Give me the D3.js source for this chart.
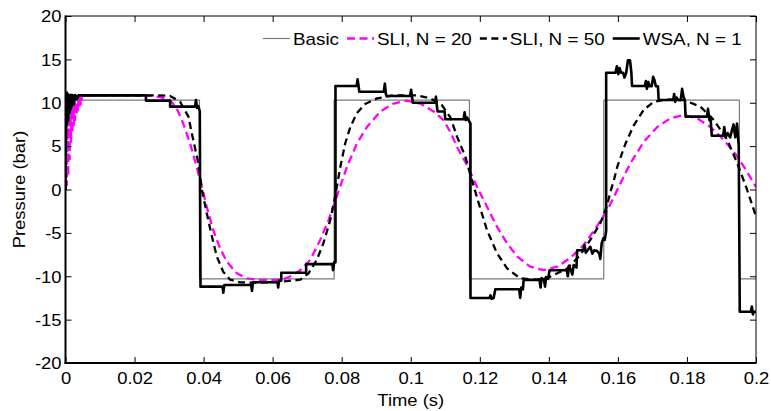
<!DOCTYPE html>
<html><head><meta charset="utf-8">
<script src="https://cdn.jsdelivr.net/npm/d3@7"></script>
<style>body{margin:0;background:#fff}svg{display:block}text{font-family:Arial,"Liberation Sans",sans-serif;fill:#000}</style>
</head><body>
<svg id="c" width="771" height="411"></svg>
<script>
const xTicks = [0,0.02,0.04,0.06,0.08,0.1,0.12,0.14,0.16,0.18,0.2];
const yTicks = [-20,-15,-10,-5,0,5,10,15,20];
const legendLabels = ["Basic","SLI, N = 20","SLI, N = 50","WSA, N = 1"];

const basic = [[0,0],[0,10.3],[0.0388,10.3],[0.0388,-10.3],[0.0778,-10.3],[0.0778,10.3],[0.1170,10.3],[0.1170,-10.3],[0.1559,-10.3],[0.1559,10.3],[0.1952,10.3],[0.1952,-10.3],[0.2,-10.3]];

const sli20 = [[0,0],[0.0002,10.6],[0.0004,0.5],[0.0006,10.7],[0.0008,1.5],[0.001,10.8],[0.0012,3.5],[0.0014,10.8],[0.0016,5.5],[0.0018,10.8],[0.002,6.5],[0.0022,10.8],[0.0024,7.4],[0.0026,10.8],[0.0028,8],[0.003,10.8],[0.0032,8.6],[0.0034,10.8],[0.0036,9],[0.0038,10.8],[0.004,9.4],[0.0042,10.8],[0.0044,9.8],[0.0046,10.8],[0.0048,10.2],[0.005,10.8],
[0.010,10.85],[0.015,10.85],[0.020,10.85],[0.025,10.8],[0.0275,10.65],[0.0303,10.3],[0.0322,9.36],[0.0341,7.6],[0.0361,5.3],[0.038,2.6],[0.0395,0.3],[0.0409,-2.0],[0.0428,-4.7],[0.0448,-6.8],[0.0467,-8.3],[0.0496,-9.66],[0.0525,-10.24],[0.0564,-10.43],[0.060,-10.45],[0.0631,-10.35],[0.0655,-9.95],[0.068,-9.3],[0.0709,-8.1],[0.0738,-5.8],[0.0762,-3.5],[0.0786,-0.8],[0.0815,2.6],[0.0844,5.3],[0.0873,7.2],[0.0912,9.0],[0.095,9.9],[0.0989,10.24],[0.1028,9.9],[0.1066,9.0],[0.1095,8.0],[0.1115,6.6],[0.1134,4.9],[0.1163,2.8],[0.1192,0.3],[0.1221,-2.0],[0.125,-4.3],[0.1279,-6.2],[0.1308,-7.7],[0.1346,-8.9],[0.1385,-9.3],[0.1424,-8.9],[0.1462,-7.9],[0.1501,-6.4],[0.154,-4.2],[0.1569,-2.4],[0.1588,-0.9],[0.1607,0.7],[0.1636,3.0],[0.1675,5.5],[0.1714,7.2],[0.1752,8.2],[0.1791,8.6],[0.183,8.2],[0.1868,7.2],[0.1907,5.7],[0.1946,3.8],[0.1974,2.05],[0.2,0.3]];

const sli50 = [[0,0],[0.0002,9],[0.0004,11.2],[0.0006,10.2],[0.0008,11],[0.0011,10.6],[0.0015,10.9],[0.005,10.85],[0.027,10.85],[0.0303,10.78],[0.0332,10.1],[0.0356,8.4],[0.037,5.7],[0.0385,3.0],[0.0395,0],[0.0409,-2.7],[0.0424,-5.4],[0.0438,-7.7],[0.0457,-9.5],[0.0477,-10.4],[0.0506,-10.7],[0.055,-10.75],[0.062,-10.65],[0.068,-10.4],[0.0704,-9.66],[0.0728,-8.1],[0.0747,-6.2],[0.0767,-3.5],[0.0781,-0.8],[0.0796,2.6],[0.081,5.3],[0.0825,7.2],[0.0844,8.8],[0.0868,9.86],[0.0902,10.5],[0.095,10.85],[0.1018,10.85],[0.1057,10.5],[0.109,9.74],[0.1115,8.3],[0.1134,6.1],[0.1158,3.8],[0.1177,1.1],[0.1197,-1.6],[0.1221,-4.7],[0.125,-7.35],[0.1279,-9.1],[0.1317,-10.24],[0.1366,-10.4],[0.1404,-10.05],[0.1453,-9.1],[0.1491,-7.55],[0.152,-5.8],[0.1549,-3.9],[0.1569,-1.8],[0.1578,-0.3],[0.1588,1.0],[0.1598,2.6],[0.1622,5.3],[0.1646,7.4],[0.1675,9.2],[0.1704,10.1],[0.1743,10.4],[0.1791,10.3],[0.1839,9.55],[0.1878,8.0],[0.1917,5.7],[0.1946,3.0],[0.1974,0],[0.2,-3.1]];

const wsa = [[0,0],[0.0002,10.9],[0.0004,7.5],[0.0006,11],[0.0008,8],[0.001,10.9],[0.0012,8.8],[0.0014,10.9],[0.0017,9.3],[0.002,10.9],[0.0024,9.8],[0.0028,10.9],[0.0033,10.4],[0.0038,10.85],[0.0233,10.85],[0.0233,10.25],[0.0303,10.25],[0.0303,9.55],[0.0375,9.55],[0.0378,10.3],[0.0381,9.4],[0.0385,9.6],[0.0389,9.0],[0.0391,-11.2],
[0.0455,-11.2],[0.0457,-11.9],[0.046,-11.0],[0.0538,-11.0],[0.054,-11.7],[0.0543,-10.7],[0.0614,-10.7],[0.0616,-11.3],[0.0619,-10.5],[0.0625,-10.5],[0.0625,-9.6],[0.0697,-9.6],[0.0697,-8.6],[0.0773,-8.6],[0.0775,-9.3],[0.0778,-8.4],[0.0782,-8.4],[0.0782,11.93],
[0.0843,11.93],[0.0846,12.7],[0.0849,11.9],[0.0851,11.27],[0.0922,11.27],[0.0925,12.2],[0.0928,11.0],[0.0930,10.78],[0.0998,10.78],[0.1001,11.5],[0.1004,10.6],[0.1006,10.0],[0.1070,10.0],[0.1073,10.7],[0.1076,9.5],[0.1078,9.0],[0.1098,9.0],[0.1100,8.1],[0.1153,8.1],[0.1156,8.9],[0.1159,8.0],[0.1163,8.3],[0.1173,7.6],[0.1173,-12.5],
[0.1228,-12.5],[0.1231,-12.2],[0.1234,-12.6],[0.1240,-12.5],[0.1245,-11.5],[0.1314,-11.5],[0.1317,-12.5],[0.1320,-11.3],[0.1325,-11.5],[0.1327,-10.43],[0.1373,-10.43],[0.1376,-11.3],[0.1379,-10.2],[0.1386,-10.43],[0.1389,-11.2],[0.1392,-10.1],[0.1398,-10.3],[0.1402,-9.3],[0.1452,-9.3],[0.1455,-10.0],[0.1458,-8.8],[0.1463,-9.2],[0.1468,-9.8],[0.1472,-8.7],[0.1480,-9.0],[0.1482,-7.0],[0.1500,-7.0],[0.1503,-6.4],[0.1507,-7.3],[0.1512,-7.0],[0.1520,-6.6],[0.1526,-7.4],[0.1532,-7.0],[0.1540,-7.1],[0.1546,-7.4],[0.1549,-8.0],[0.1553,-6.2],[0.1558,-5.6],[0.1562,-5.8],[0.1566,-4.8],[0.1566,13.46],
[0.1593,13.46],[0.1597,14.2],[0.1601,13.3],[0.1605,14.0],[0.1609,13.46],[0.1615,13.46],[0.1619,12.9],[0.1624,13.46],[0.1629,14.9],[0.1635,14.9],[0.1639,13.46],[0.1641,11.93],[0.1678,11.93],[0.1681,12.5],[0.1684,11.6],[0.1688,12.4],[0.1692,11.9],[0.1698,11.9],[0.1702,13.0],[0.1706,12.6],[0.171,11.9],[0.1716,11.9],[0.1718,10.32],
[0.176,10.32],[0.1763,11.0],[0.1766,10.1],[0.1770,10.6],[0.1775,10.3],[0.1782,10.3],[0.1786,11.6],[0.179,10.7],[0.1794,10.3],[0.1796,8.4],[0.1858,8.4],[0.1861,9.3],[0.1865,8.0],[0.1868,8.4],[0.1872,6.2],[0.1905,6.2],[0.1908,7.2],[0.1912,6.0],[0.1918,6.5],[0.1925,6.0],[0.1935,7.5],[0.1940,6.0],[0.1945,7.6],[0.1950,5.0],[0.1953,-14.1],
[0.1985,-14.1],[0.1988,-13.5],[0.1991,-14.4],[0.1994,-14.1],[0.2,-14.1]];

const svg = d3.select("#c");
const L=65.5, R=756, T=16, B=363;
const x = d3.scaleLinear().domain([0,0.2]).range([L,R]);
const y = d3.scaleLinear().domain([-20,20]).range([B,T]);
const STR = 1.15;
function stretch(sel){ sel.each(function(){ const w=this.getComputedTextLength(); this.setAttribute("textLength", w*STR); this.setAttribute("lengthAdjust","spacingAndGlyphs"); }); }

svg.append("clipPath").attr("id","clip").append("rect").attr("x",L).attr("y",T).attr("width",R-L).attr("height",B-T);
const plot = svg.append("g").attr("clip-path","url(#clip)");
const line = d3.line().x(d=>x(d[0])).y(d=>y(d[1]));

const styles = [
  {data:basic, stroke:"#7a7a7a", w:1.2, dash:null},
  {data:sli20, stroke:"#ff00ff", w:2.3, dash:"8,4.5"},
  {data:sli50, stroke:"#000", w:2.3, dash:"7,4.5"},
  {data:wsa, stroke:"#000", w:2.6, dash:null}
];
styles.forEach(s=>{
  plot.append("path").datum(s.data).attr("d",line).attr("fill","none")
    .attr("stroke",s.stroke).attr("stroke-width",s.w).attr("stroke-dasharray",s.dash)
    .attr("stroke-linejoin","round");
});

// axes frame
const ax = svg.append("g");
ax.append("line").attr("x1",L).attr("x2",R).attr("y1",T).attr("y2",T).attr("stroke","#000").attr("stroke-width",1);
ax.append("line").attr("x1",R).attr("x2",R).attr("y1",T).attr("y2",B).attr("stroke","#000").attr("stroke-width",1);
ax.append("line").attr("x1",L-1).attr("x2",R+0.5).attr("y1",B).attr("y2",B).attr("stroke","#000").attr("stroke-width",2);
ax.append("line").attr("x1",L).attr("x2",L).attr("y1",T-0.5).attr("y2",B+1).attr("stroke","#000").attr("stroke-width",2);

const tl=6;
const gxb = svg.append("g").attr("transform",`translate(0,${B})`).call(d3.axisBottom(x).tickValues(xTicks).tickSizeInner(-tl).tickSizeOuter(0).tickPadding(12).tickFormat(d=>String(+d.toFixed(2))));
const gxt = svg.append("g").attr("transform",`translate(0,${T})`).call(d3.axisTop(x).tickValues(xTicks).tickSizeInner(-tl).tickSizeOuter(0).tickFormat(""));
const gyl = svg.append("g").attr("transform",`translate(${L},0)`).call(d3.axisLeft(y).tickValues(yTicks).tickSizeInner(-tl).tickSizeOuter(0).tickPadding(10).tickFormat(d=>String(d)));
const gyr = svg.append("g").attr("transform",`translate(${R},0)`).call(d3.axisRight(y).tickValues(yTicks).tickSizeInner(-tl).tickSizeOuter(0).tickFormat(""));
[gxb,gxt,gyl,gyr].forEach(g=>{ g.select(".domain").remove(); g.selectAll(".tick line").attr("stroke","#000").attr("stroke-width",1); g.selectAll("text").attr("font-size",16).attr("font-family","Arial, 'Liberation Sans', sans-serif").attr("fill","#000"); });
gxb.selectAll("text").attr("dy","0.71em").attr("y",9.5);
gyl.selectAll("text").attr("x",-4).attr("dy","0.36em");
stretch(gxb.selectAll("text")); stretch(gyl.selectAll("text"));

// axis titles
const xt = svg.append("text").attr("x",(L+R)/2).attr("y",406).attr("text-anchor","middle").attr("font-size",16).text("Time (s)");
const yt = svg.append("text").attr("transform",`translate(25,${(T+B)/2}) rotate(-90)`).attr("text-anchor","middle").attr("font-size",16).text("Pressure (bar)");
stretch(xt); stretch(yt);

// legend
const lg = svg.append("g");
const sampleW = 27, gapS = 3, gapT = 8, baseY = 45, lineY = 38.5;
let cursor = 741.7;
for (let i = styles.length-1; i>=0; i--) {
  const t = lg.append("text").attr("y",baseY).attr("font-size",16.4).text(legendLabels[i]);
  const w = t.node().getComputedTextLength()*STR;
  t.attr("textLength",w).attr("lengthAdjust","spacingAndGlyphs").attr("x",cursor-w);
  const sx2 = cursor - w - gapS, sx1 = sx2 - sampleW;
  const s = styles[i];
  lg.append("line").attr("x1",sx1).attr("x2",sx2).attr("y1",lineY).attr("y2",lineY)
    .attr("stroke",s.stroke).attr("stroke-width",s.w).attr("stroke-dasharray",s.dash);
  cursor = sx1 - gapT;
}
</script>
</body></html>
